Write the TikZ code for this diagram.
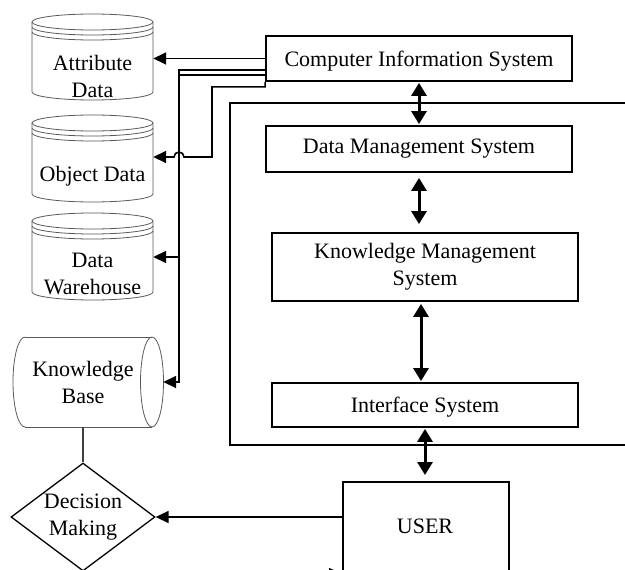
\documentclass[tikz,border=0pt]{standalone}
\usepackage{fontspec}
\setmainfont{Liberation Serif}
\usetikzlibrary{arrows.meta,shapes.geometric}
\newcommand\dbcyl[3]{%
  \draw[cylline] (#1,#2+8) ellipse [x radius=60.5, y radius=8];
  \draw[cylline] (#1-60.5,#2+8) -- (#1-60.5,#3-8)
     arc[start angle=180, end angle=0, x radius=60.5, y radius=8] -- (#1+60.5,#2+8);
  \draw[cylline] (#1-60.5,#2+13) arc[start angle=180, end angle=0, x radius=60.5, y radius=8];
  \draw[cylline] (#1-60.5,#2+18) arc[start angle=180, end angle=0, x radius=60.5, y radius=8];
}
\begin{document}
\begin{tikzpicture}[x=1pt, y=-1pt,
  font=\fontsize{22}{27}\selectfont,
  box/.style={draw, line width=1.8pt, minimum width=306pt, inner sep=0pt, align=center},
  conn/.style={line width=1.6pt},
  arr/.style={conn, -{Triangle[length=13pt,width=12pt]}},
  biarr/.style={line width=3pt, {Triangle[length=13pt,width=15pt]}-{Triangle[length=13pt,width=15pt]}},
  cylline/.style={draw=black!65, line width=0.8pt},
  cyltext/.style={inner sep=0pt, minimum width=121pt, align=center},
]
\useasboundingbox (0,0) rectangle (625,570);
\clip (0,0) rectangle (625,570);

% right-hand boxes
\node[box, minimum height=45pt, text depth=0pt] (cis) at (419,58.5) {Computer Information System};
\node[box, minimum height=46pt] (dms) at (419,149) {Data Management System};
\node[box, minimum height=68pt] (kms) at (425,267) {Knowledge Management\\System};
\node[box, minimum height=44pt, text depth=0pt] (is) at (425,405) {Interface System};
\node[box, minimum width=166pt, minimum height=120pt, anchor=north west] (user) at (342,481) {};
\node (usertxt) at (425,526) {USER};

% open frame
\draw[line width=1.8pt] (630,103) -- (230,103) -- (230,445) -- (630,445);

% cylinders
\dbcyl{92.5}{14}{100}
\dbcyl{92.5}{115}{202}
\dbcyl{92.5}{213}{300}
\node[cyltext] (attr) at (92.5,76.5) {Attribute\\Data};
\node[cyltext] (obj) at (92.5,176) {Object Data};
\node[cyltext] (dw) at (92.5,274) {Data\\Warehouse};

% knowledge base (horizontal cylinder)
\draw[cylline] (25,337) -- (152,337) (25,427) -- (152,427);
\draw[cylline] (152,382) ellipse [x radius=11.5, y radius=45];
\draw[cylline] (25,337) arc[start angle=270, end angle=90, x radius=12, y radius=45];
\node[inner sep=0pt, minimum width=160pt, minimum height=90pt, align=center] (kb) at (83,382) {Knowledge\\Base};

% decision
\node[draw, diamond, line width=1.3pt, minimum width=144pt, minimum height=108pt,
      aspect=1.333, inner sep=0pt, align=center] (dm) at (83,517) {Decision\\Making};

% left connectors
\draw[arr] (cis.west) -- (cis.west -| attr.east);
\draw[arr] (cis.west |- 0,70) -- (179,70) -- (179,257) -- (dw.east |- 0,257);
\draw[arr] (cis.west |- 0,75) -- (179,75) |- (kb.east);
\draw[arr] (cis.south west) -- ++(0,5) -| (212,157) -- (184,157)
   arc[start angle=0, end angle=-180, radius=5] -- (obj.east |- 0,157);
\draw[line width=1.3pt, black!75] (dm.north |- kb.south) -- (dm.north);
\draw[arr] (user.west |- dm.east) -- (dm.east);
\coordinate (inlet) at (290,574);
\draw[arr] (inlet) -- (user.west |- inlet);

% vertical double arrows
\draw[biarr, shorten <=1pt, shorten >=1pt] (cis.south) -- (dms.north);
\draw[biarr, shorten <=5pt, shorten >=8pt] (dms.south) -- (dms.south |- kms.north);
\draw[biarr, shorten <=2pt, shorten >=1pt] ([xshift=-4pt]kms.south) -- ([xshift=-4pt]is.north);
\draw[biarr, shorten <=1pt, shorten >=6pt] (is.south) -- (is.south |- user.north);
\end{tikzpicture}
\end{document}
